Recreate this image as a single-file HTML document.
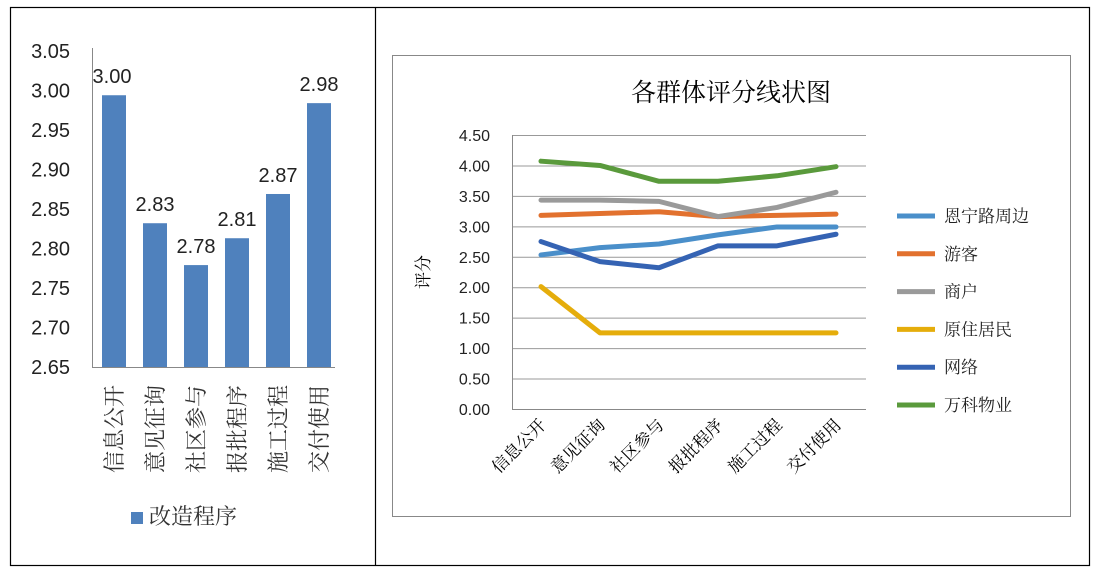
<!DOCTYPE html>
<html><head><meta charset="utf-8"><style>
body{margin:0;background:#fff;}
svg{display:block;font-family:"Liberation Sans","Noto Sans CJK SC",sans-serif;}
.cjk{font-family:"Liberation Serif","Noto Serif CJK SC",serif;}
</style></head><body>
<svg id="svg" width="1096" height="576" viewBox="0 0 1096 576">
<rect x="10.5" y="7.5" width="1079" height="558" fill="none" stroke="#000" stroke-width="1.2"/>
<line x1="375.5" y1="7" x2="375.5" y2="566" stroke="#000" stroke-width="1.2"/>
<g id="left"></g>
<rect x="392.5" y="55.5" width="678" height="461" fill="none" stroke="#888" stroke-width="1"/>
<text x="731" y="101" text-anchor="middle" font-size="25" class="cjk">各群体评分线状图</text>
<g id="right"></g>
</svg>
<script>
const barCats=["信息公开","意见征询","社区参与","报批程序","施工过程","交付使用"];
const barVals=[2.994,2.832,2.779,2.813,2.869,2.984];
const barLabels=["3.00","2.83","2.78","2.81","2.87","2.98"];
const barTicks=[2.65,2.70,2.75,2.80,2.85,2.90,2.95,3.00,3.05];

const lineCats=["信息公开","意见征询","社区参与","报批程序","施工过程","交付使用"];
const seriesNames=["恩宁路周边","游客","商户","原住居民","网络","万科物业"];
const sEnning=[2.53,2.65,2.71,2.86,2.99,2.99];
const sTourist=[3.18,3.21,3.24,3.16,3.18,3.20];
const sMerchant=[3.43,3.43,3.41,3.16,3.31,3.56];
const sResident=[2.01,1.25,1.25,1.25,1.25,1.25];
const sNetwork=[2.75,2.42,2.32,2.68,2.68,2.87];
const sVanke=[4.07,4.00,3.74,3.74,3.83,3.98];
const lineTicks=[0,0.5,1,1.5,2,2.5,3,3.5,4,4.5];
const colors=["#4a8fca","#e2712e","#9a9a9a","#e5ad0b","#3563b3","#5a9a3c"];

const NS="http://www.w3.org/2000/svg";
function mk(p,t,a,txt){const e=document.createElementNS(NS,t);for(const k in a)e.setAttribute(k,a[k]);if(txt!==undefined)e.textContent=txt;p.appendChild(e);return e;}

// left bar chart
const L=document.getElementById('left');
const by=v=>367-(v-2.65)/0.4*316;
const bx=i=>114+i*41;
barTicks.forEach(t=>{
 const e=mk(L,'text',{x:70,y:by(t)+7,'text-anchor':'end','font-size':20,fill:'#222'},t.toFixed(2));
 
 
});
barVals.forEach((v,i)=>{
 const r=mk(L,'rect',{x:bx(i)-12,y:by(v),width:24,height:367-by(v),fill:'#4f81bd'});
 
 
 const t=mk(L,'text',{x:bx(i)+(i==0?-2:0),y:by(v)-12,'text-anchor':'middle','font-size':20,fill:'#222'},barLabels[i]);
 
 
 const c=mk(L,'text',{x:0,y:0,'font-size':22,'class':'cjk',fill:'#333',transform:`translate(${bx(i)+8},385) rotate(-90)`,'text-anchor':'end'},barCats[i]);
 
 
});
const ax=mk(L,'path',{d:'M92.5 48V367.5H335',fill:'none',stroke:'#888','stroke-width':1});


const lg=mk(L,'rect',{x:131,y:512,width:12,height:12,fill:'#4f81bd'});


const lt=mk(L,'text',{x:149,y:524,'font-size':22,'class':'cjk',fill:'#333'},'改造程序');



// right line chart
const R=document.getElementById('right');
const ly=v=>409-v/4.5*274;
const lx=i=>541+i*59;
lineTicks.forEach(t=>{
 const g=mk(R,'line',{x1:512,x2:866,y1:ly(t)+.5,y2:ly(t)+.5,stroke:t==0?'#888':'#999','stroke-width':1});
 
 
 const e=mk(R,'text',{x:490,y:ly(t)+6,'text-anchor':'end','font-size':16,fill:'#222'},t.toFixed(2));
 
 
});
const ya=mk(R,'line',{x1:512.5,x2:512.5,y1:135,y2:409,stroke:'#888'});


const yt=mk(R,'text',{x:0,y:0,'font-size':17,'class':'cjk',transform:'translate(429,272) rotate(-90)','text-anchor':'middle'},'评分');


lineCats.forEach((c,i)=>{
 const e=mk(R,'text',{x:0,y:0,'font-size':17,'class':'cjk','text-anchor':'end',transform:`translate(${lx(i)+6},426) rotate(-45)`},c);
 
 
});
const allSeries=[sEnning,sTourist,sMerchant,sResident,sNetwork,sVanke];
allSeries.forEach((s,k)=>{
 const p=mk(R,'polyline',{points:s.map((v,i)=>lx(i)+','+ly(v)).join(' '),fill:'none',stroke:colors[k],'stroke-width':5,'stroke-linejoin':'round','stroke-linecap':'round'});
 
 
 const yy=216+k*37.8;
 const ls=mk(R,'line',{x1:897,x2:935,y1:yy,y2:yy,stroke:colors[k],'stroke-width':5});
 
 
 const lt2=mk(R,'text',{x:944,y:yy+6,'font-size':17,'class':'cjk',fill:'#222'},seriesNames[k]);
 
 
});
</script>
</body></html>
